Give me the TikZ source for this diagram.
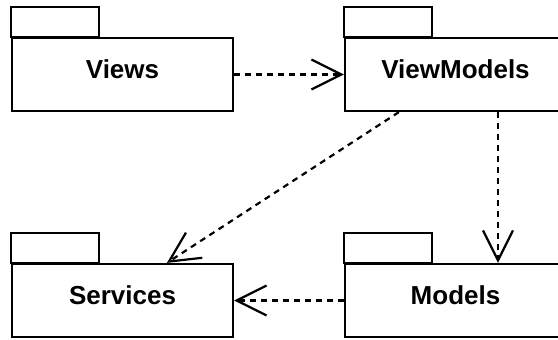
\documentclass[tikz,border=0pt]{standalone}
\usepackage{fontspec}
\setmainfont{Liberation Sans}
\usetikzlibrary{arrows.meta,calc}
\begin{document}
\begin{tikzpicture}[x=1pt,y=-1pt,
  pkgbody/.style={draw,line width=2.2pt,minimum width=221pt,minimum height=73pt,
    inner sep=0pt,font=\fontsize{26}{30}\selectfont\bfseries,
    text height=17pt,text depth=9pt},
  pkgtab/.style={draw,line width=2.2pt},
  dep/.style={line width=2.2pt,dash pattern=on 6pt off 5pt,
    -{Straight Barb[length=30pt,width=30pt,line width=2.2pt]}}]
\useasboundingbox (0,0) rectangle (558,340);
\clip (0,0) rectangle (558,340);
\node[pkgbody] (v) at (122.5,74.5) {Views};
\node[pkgbody] (vm) at (455.5,74.5) {ViewModels};
\node[pkgbody] (s) at (122.5,300.5) {Services};
\node[pkgbody] (m) at (455.5,300.5) {Models};
\foreach \p in {v,vm,s,m}{
  \draw[pkgtab] (\p.north west) rectangle ($(\p.north west)+(88,-30)$);
}
\coordinate (mx) at (498,0);
\draw[dep] (v.east) -- (vm.west);
\draw[dep] (vm.south -| mx) -- (m.north -| mx);
\draw[dep] ($(vm.south west)+(55,0)$) -- ($(s.north west)+(156,0)$);
\draw[dep] (m.west) -- (s.east);
\end{tikzpicture}
\end{document}
